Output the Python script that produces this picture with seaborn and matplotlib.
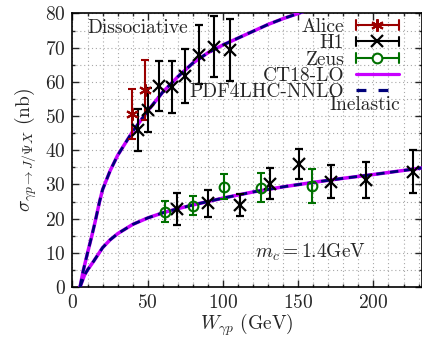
import numpy as np
import pandas as pd
import matplotlib
matplotlib.use("Agg")
import matplotlib.pyplot as plt
from matplotlib.lines import Line2D
from matplotlib.legend_handler import HandlerBase
from matplotlib.ticker import MultipleLocator
import seaborn as sns

# theory curves
diss_W = [5, 7, 10, 12.7, 15, 18, 20, 25, 30, 40, 50, 60, 70, 80, 90, 100, 110, 120, 130, 140, 150, 153]
diss_sigma = [0, 4.5, 10, 14.7, 19, 25, 28.5, 34, 38.5, 45.5, 51.5, 57, 61.5, 65.5, 68.5, 70.8, 72.8, 74.8, 76.8, 78.5, 80, 80.5]
inel_W = [5, 8, 10, 14, 20, 25, 30, 40, 50, 60, 70, 80, 100, 120, 140, 160, 180, 200, 232]
inel_sigma = [0, 3.5, 5, 7.5, 11.5, 13.8, 15.6, 18.3, 20.2, 21.7, 22.9, 24.0, 26.0, 27.8, 29.3, 30.6, 31.8, 32.9, 34.8]

# Alice (dissociative)
alice_W = [39.7, 48.1]
alice_sigma = [50.5, 57.6]
alice_err = [7.3, 8.8]

# H1 (dissociative + inelastic)
h1_W = [43.3, 50.4, 57.4, 65.8, 74.7, 84.2, 94.2, 105.0,
        69.2, 89.8, 111.2, 131.1, 150.6, 171.6, 195.3, 226.0]
h1_sigma = [46.0, 51.8, 58.8, 58.5, 61.7, 68.0, 70.3, 69.3,
            22.8, 24.5, 24.0, 30.2, 36.0, 30.8, 31.3, 33.7]
h1_err = [6.1, 6.5, 7.4, 7.5, 8.0, 8.7, 9.0, 9.0,
          4.7, 4.0, 3.3, 4.6, 4.5, 4.8, 5.2, 6.3]

# Zeus (inelastic)
zeus_W = [61.6, 80.2, 100.6, 125.6, 159.2]
zeus_sigma = [22.0, 23.8, 29.3, 29.0, 29.5]
zeus_err = [3.1, 2.7, 3.7, 4.2, 5.0]

MAGENTA = "#c800ff"
NAVY = "#00007a"
DARKRED = "#9a0000"
GREEN = "#007000"

sns.set_theme(style="ticks")
plt.rcParams["font.family"] = ["cmr10", "DejaVu Serif"]
plt.rcParams["mathtext.fontset"] = "cm"
plt.rcParams["axes.formatter.use_mathtext"] = True
plt.rcParams["font.size"] = 14

fig = plt.figure(figsize=(4.22, 3.39), dpi=100)
ax = fig.add_axes([0.1718, 0.1534, 0.999 - 0.1718, 0.9602 - 0.1534])

curves = pd.DataFrame({"W": diss_W + inel_W,
                       "sigma": diss_sigma + inel_sigma,
                       "set": ["diss"] * len(diss_W) + ["inel"] * len(inel_W)})
for name, sub in curves.groupby("set"):
    sns.lineplot(data=sub, x="W", y="sigma", ax=ax, color=MAGENTA, lw=2.5,
                 sort=False, estimator=None, zorder=3)
    sns.lineplot(data=sub, x="W", y="sigma", ax=ax, color=NAVY, lw=2.0,
                 sort=False, estimator=None, zorder=4, dashes=False,
                 linestyle=(0, (3.0, 2.0)))

eb_kw = dict(linestyle="none", capsize=3, elinewidth=1.5, capthick=1.5, zorder=5)
ax.errorbar(alice_W, alice_sigma, yerr=alice_err, color=DARKRED,
            marker=(6, 2, 0), ms=9, mew=1.5, **eb_kw)
ax.errorbar(h1_W, h1_sigma, yerr=h1_err, color="black",
            marker="x", ms=8.5, mew=1.6, **eb_kw)
ax.errorbar(zeus_W, zeus_sigma, yerr=zeus_err, color=GREEN,
            marker="o", ms=7, mew=1.5, mfc="none", **eb_kw)

ax.set_xlim(0, 232)
ax.set_ylim(0, 80)
ax.xaxis.set_major_locator(MultipleLocator(50))
ax.xaxis.set_minor_locator(MultipleLocator(10))
ax.yaxis.set_major_locator(MultipleLocator(10))
ax.yaxis.set_minor_locator(MultipleLocator(5))
ax.tick_params(which="both", direction="in", top=True, right=True, labelsize=14, pad=5)
ax.tick_params(which="major", length=5, width=1)
ax.tick_params(which="minor", length=2.5, width=1)
ax.grid(which="both", linestyle=(0, (1, 2.5)), color="#a8a8a8", lw=0.8)
for sp in ax.spines.values():
    sp.set_linewidth(1.2)
    sp.set_color("black")

ax.set_xlabel(r"$W_{\gamma p}$ (GeV)", fontsize=14, labelpad=0)
ax.set_ylabel(r"$\sigma_{\gamma p\rightarrow J/\Psi X}$ (nb)", fontsize=14, labelpad=4)

ax.text(10, 75.7, "Dissociative", fontsize=14, va="center", ha="left")
ax.text(171, 53.3, "Inelastic", fontsize=14, va="center", ha="left")
ax.text(121, 10.2, r"$m_c = 1.4$GeV", fontsize=14, va="center", ha="left")


class ErrHandler(HandlerBase):
    def create_artists(self, legend, orig_handle, xdescent, ydescent,
                       width, height, fontsize, trans):
        c = orig_handle.get_color()
        y = height / 2 - ydescent
        x0, x1 = -xdescent, -xdescent + width
        h = 0.25 * fontsize
        arts = [Line2D([x0, x1], [y, y], color=c, lw=1.5),
                Line2D([x0, x0], [y - h, y + h], color=c, lw=1.5),
                Line2D([x1, x1], [y - h, y + h], color=c, lw=1.5),
                Line2D([(x0 + x1) / 2], [y], color=c, marker=orig_handle.get_marker(),
                       ms=orig_handle.get_markersize(), mew=orig_handle.get_markeredgewidth(),
                       mfc=orig_handle.get_markerfacecolor(), linestyle="none")]
        for a in arts:
            a.set_transform(trans)
        return arts


h_alice = Line2D([], [], color=DARKRED, marker=(6, 2, 0), ms=9, mew=1.5)
h_h1 = Line2D([], [], color="black", marker="x", ms=8.5, mew=1.6)
h_zeus = Line2D([], [], color=GREEN, marker="o", ms=7, mew=1.5, mfc="white")
h_ct = Line2D([], [], color=MAGENTA, lw=2.3)
h_pdf = Line2D([], [], color=NAVY, lw=2.3, linestyle=(0, (3.1, 3.8)))
eh = ErrHandler()
ax.legend([h_alice, h_h1, h_zeus, h_ct, h_pdf],
          ["Alice", "H1", "Zeus", "CT18-LO", "PDF4LHC-NNLO"],
          handler_map={h_alice: eh, h_h1: eh, h_zeus: eh},
          loc="upper right", bbox_to_anchor=(0.94, 0.991), markerfirst=False,
          frameon=False, borderpad=0.1, borderaxespad=0, fontsize=14,
          handlelength=2.2, handletextpad=0.6, labelspacing=-0.08)

fig.savefig("out.png", dpi=100, facecolor="white")
